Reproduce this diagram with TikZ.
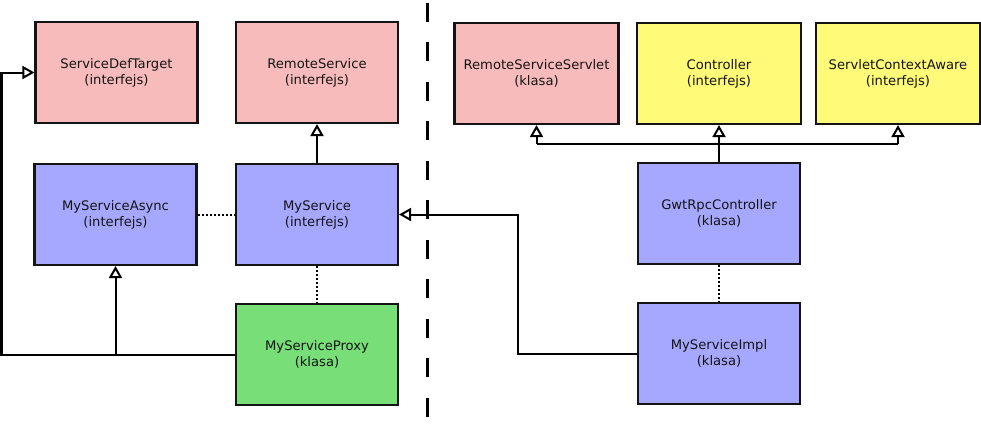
\documentclass[tikz,border=0pt]{standalone}
\usepackage{fontspec}
\setmainfont{DejaVu Sans}
\usetikzlibrary{arrows.meta}
\definecolor{pinkbox}{RGB}{248,187,187}
\definecolor{yellowbox}{RGB}{255,250,120}
\definecolor{bluebox}{RGB}{166,168,255}
\definecolor{greenbox}{RGB}{120,222,120}
\definecolor{edge}{RGB}{20,20,20}
\begin{document}
\begin{tikzpicture}[x=1bp,y=-1bp,
  box/.style={draw=edge, line width=2.1bp, minimum width=162bp, minimum height=101bp,
    inner sep=0pt, align=center, text=edge, font=\fontsize{13.2}{16}\selectfont},
  wbox/.style={box, minimum width=164bp},
  conn/.style={draw=black, line width=2bp},
  arr/.style={conn, -{Triangle[open, length=12bp, width=13bp, fill=white]}},
  dots/.style={draw=black, line width=2bp, dash pattern=on 2bp off 2bp},
  sep/.style={draw=black, line width=2.6bp, dash pattern=on 19bp off 20.5bp}
]
\useasboundingbox (0,0) rectangle (981,424);

% boxes
\node[box, fill=pinkbox] (sdt) at (116.5,72.5) {ServiceDefTarget\\(interfejs)};
\node[box, fill=pinkbox] (rs) at (317,72.5) {RemoteService\\(interfejs)};
\node[wbox, fill=pinkbox] (rss) at (536.5,73.5) {RemoteServiceServlet\\(klasa)};
\node[wbox, fill=yellowbox] (ctrl) at (719,73.5) {Controller\\(interfejs)};
\node[wbox, fill=yellowbox] (sca) at (898,73.5) {ServletContextAware\\(interfejs)};
\node[box, fill=bluebox] (msa) at (115.5,214.5) {MyServiceAsync\\(interfejs)};
\node[box, fill=bluebox] (ms) at (317,214.5) {MyService\\(interfejs)};
\node[box, fill=greenbox] (proxy) at (317,354.5) {MyServiceProxy\\(klasa)};
\node[box, fill=bluebox] (gwt) at (719,213.5) {GwtRpcController\\(klasa)};
\node[box, fill=bluebox] (impl) at (719,353.5) {MyServiceImpl\\(klasa)};

% separator
\coordinate (septop) at (427.5,2.5);
\coordinate (sepbot) at (427.5,424);
\draw[sep] (septop) -- (sepbot);

% helper coordinates
\coordinate (lft) at (1.5,0);
\coordinate (mid) at (518,0);
\coordinate (bus) at (0,143.5);

% connectors
\draw[arr] (proxy.west) -- (proxy.west -| lft) -- (sdt.west -| lft) -- (sdt.west);
\draw[arr] (proxy.west -| msa.south) -- (msa.south);
\draw[arr] (ms.north) -- (rs.south);
\draw[dots] (msa.east) -- (ms.west);
\draw[dots] (ms.south) -- (proxy.north);
\draw[arr] (impl.west) -- (impl.west -| mid) -- (ms.east -| mid) -- (ms.east);
\draw[arr] (gwt.north) -- (ctrl.south);
\draw[conn] (rss.south |- bus) -- (sca.south |- bus);
\draw[arr] (rss.south |- bus) -- (rss.south);
\draw[arr] (sca.south |- bus) -- (sca.south);
\draw[dots] (gwt.south) -- (impl.north);
\end{tikzpicture}
\end{document}
